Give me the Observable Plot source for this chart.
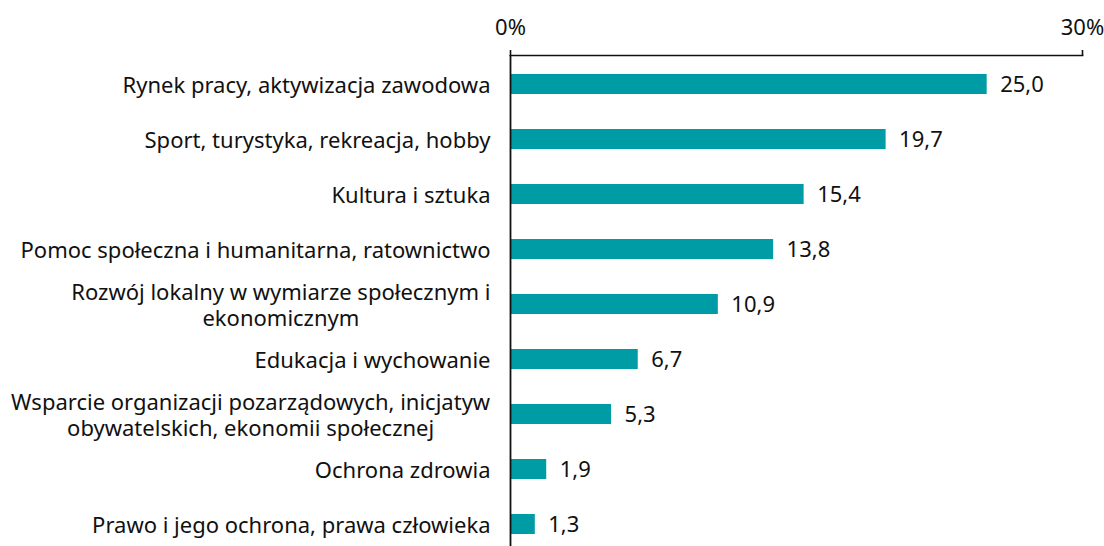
<!DOCTYPE html>
<html>
<head>
<meta charset="utf-8">
<script src="https://cdn.jsdelivr.net/npm/d3@7"></script>
<script src="https://cdn.jsdelivr.net/npm/@observablehq/plot@0.6"></script>
<style>
  html, body { margin: 0; padding: 0; background: #fff; }
  #chart svg { display: block; }
</style>
</head>
<body>
<div id="chart"></div>
<script>
const categories = [
  "Rynek pracy, aktywizacja zawodowa",
  "Sport, turystyka, rekreacja, hobby",
  "Kultura i sztuka",
  "Pomoc społeczna i humanitarna, ratownictwo",
  "Rozwój lokalny w wymiarze społecznym i\nekonomicznym",
  "Edukacja i wychowanie",
  "Wsparcie organizacji pozarządowych, inicjatyw\nobywatelskich, ekonomii społecznej",
  "Ochrona zdrowia",
  "Prawo i jego ochrona, prawa człowieka"
];
const values = [25.0, 19.7, 15.4, 13.8, 10.9, 6.7, 5.3, 1.9, 1.3];
const xTicks = [0, 30];

const data = categories.map((c, i) => ({category: c, value: values[i]}));
const fmt = v => v.toFixed(1).replace(".", ",");
const FONT = "'Noto Sans', sans-serif";
const FS = 22;

const chart = Plot.plot({
  width: 1104,
  height: 546,
  marginLeft: 510,
  marginRight: 22,
  marginTop: 55,
  marginBottom: 0,
  style: {fontFamily: FONT, fontSize: FS + "px", color: "#111", background: "#fff"},
  x: {domain: [0, 30], axis: null},
  y: {domain: categories, range: [55, 552], paddingInner: 0.64, paddingOuter: 0.327, axis: null},
  marks: [
    Plot.axisX({
      anchor: "top",
      ticks: xTicks,
      tickFormat: d => d + "%",
      tickSize: 6,
      tickPadding: 15,
      strokeWidth: 1.6,
      fontSize: FS,
      label: null
    }),
    Plot.frame({anchor: "top", stroke: "#111", strokeWidth: 1.6}),
    Plot.barX(data, {x: "value", y: "category", fill: "#009ca6"}),
    Plot.ruleX([0], {stroke: "#111", strokeWidth: 1.8}),
    Plot.text(data, {
      x: "value", y: "category", text: d => fmt(d.value),
      textAnchor: "start", dx: 13, fontSize: FS, fill: "#111"
    }),
    Plot.text(data, {
      x: 0, y: "category", text: "category",
      textAnchor: "end", dx: -20, fontSize: FS, lineHeight: 1.2, fill: "#111",
      className: "cat-labels"
    })
  ]
});

document.getElementById("chart").appendChild(chart);

// center the lines of multi-line labels on one another (keep right edge)
chart.querySelectorAll(".cat-labels text").forEach(t => {
  if (t.querySelectorAll("tspan").length > 1) {
    const w = t.getBBox().width;
    t.setAttribute("text-anchor", "middle");
    const tr = t.getAttribute("transform") || "";
    t.setAttribute("transform", tr + ` translate(${-w / 2},0)`);
  }
});
</script>
</body>
</html>
